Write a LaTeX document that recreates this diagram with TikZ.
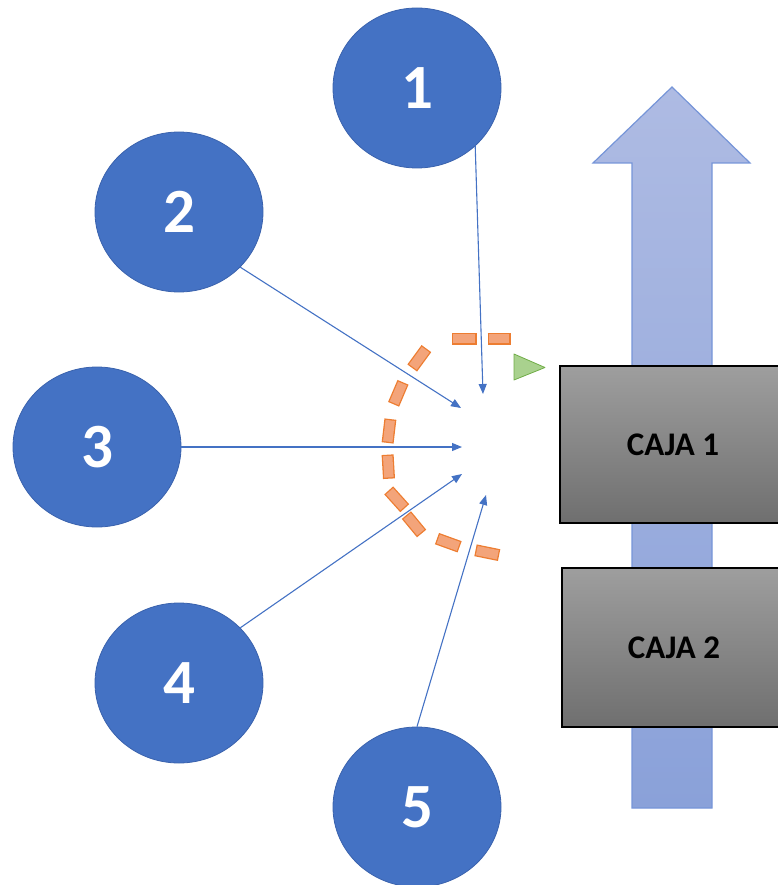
\documentclass[tikz,border=0pt]{standalone}
\usepackage{fontspec}
\setmainfont{Carlito}
\usetikzlibrary{shapes.geometric,arrows.meta}

\definecolor{nodeblue}{HTML}{4472C4}
\definecolor{nodeedge}{HTML}{3A62AD}
\definecolor{flowtop}{HTML}{AEBBE3}
\definecolor{flowbot}{HTML}{8AA1D9}
\definecolor{flowedge}{HTML}{7695D8}
\definecolor{boxtop}{HTML}{9E9E9E}
\definecolor{boxbot}{HTML}{6F6F6F}
\definecolor{zoneedge}{HTML}{ED7D31}
\definecolor{zonefill}{HTML}{F3A47A}
\definecolor{markfill}{HTML}{A9D18E}
\definecolor{markedge}{HTML}{70AD47}

\begin{document}
\begin{tikzpicture}[x=1pt,y=-1pt,
  station/.style={ellipse, fill=nodeblue, draw=nodeedge, line width=0.8pt,
    minimum width=168pt, minimum height=160pt, inner sep=0pt, text=white,
    font=\fontsize{63}{63}\selectfont\bfseries},
  feed/.style={draw=nodeblue, line width=1.1pt,
    -{Triangle[length=10pt,width=8pt]}},
  caja/.style={rectangle, draw=black, line width=1.3pt,
    top color=boxtop, bottom color=boxbot, inner sep=0pt,
    font=\fontsize{33}{33}\selectfont\bfseries},
  flow/.style={draw=flowedge, line width=1.2pt, line join=miter,
    top color=flowtop, bottom color=flowbot},
  zoneout/.style={draw=zoneedge, line width=12pt, line cap=butt},
  zonein/.style={draw=zonefill, line width=9.4pt, line cap=butt,
    shorten <=1.3pt, shorten >=1.3pt},
  flagtri/.style={fill=markfill, draw=markedge, line width=0.8pt, line join=round}
]
\useasboundingbox (0,0) rectangle (778,885);

% conveyor direction
\path[flow] (632,808) -- (632,163) -- (593,163) -- (672,87) -- (750,163)
  -- (712,163) -- (712,808) -- cycle;

% boxes on the conveyor
\node[caja, minimum width=226pt, minimum height=157pt] (caja1) at (673,444.5) {CAJA 1};
\node[caja, minimum width=224pt, minimum height=159pt] (caja2) at (674,647.5) {CAJA 2};

% small green marker
\path[flagtri] (514,354) -- (545,367.5) -- (514,380) -- cycle;

% dashed reach zone, one segment per dash
\foreach \ax/\ay/\bx/\by in {
  487.5/338.5/510.5/338.5,
  452/338.5/476.5/338.5,
  412.2/368/426.4/348.6,
  393.6/404.3/403/382.3,
  387.6/442.9/390.4/419.1,
  389/478.7/387.6/454.7,
  388.7/490.4/404.7/508.2,
  406.4/515.1/421.6/533.5,
  437/538.6/459.6/546.8,
  475.5/550.3/499.1/555.1} {
  \draw[zoneout] (\ax,\ay) -- (\bx,\by);
  \draw[zonein] (\ax,\ay) -- (\bx,\by);
}

% stations
\node[station] (c1) at (417,88) {1};
\node[station] (c2) at (179,212) {2};
\node[station] (c3) at (97,447) {3};
\node[station] (c4) at (179,683) {4};
\node[station] (c5) at (417,807) {5};

% arrow targets
\coordinate (t1) at (483,394);
\coordinate (t2) at (461,408);
\coordinate (t3) at (462,447);
\coordinate (t4) at (462,474);
\coordinate (t5) at (486,495);

\draw[feed] (c1.-45) -- (t1);
\draw[feed] (c2.-42) -- (t2);
\draw[feed] (c3.east) -- (t3);
\draw[feed] (c4.42) -- (t4);
\draw[feed] (c5.north) -- (t5);
\end{tikzpicture}
\end{document}
